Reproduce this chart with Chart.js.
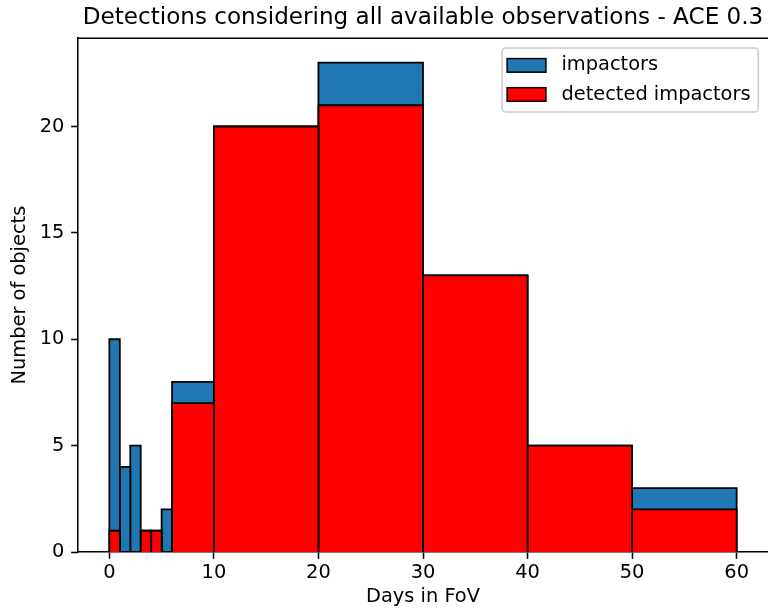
<!DOCTYPE html>
<html>
<head>
<meta charset="utf-8">
<script src="https://cdn.jsdelivr.net/npm/chart.js@4/dist/chart.umd.min.js"></script>
<style>
  html, body { margin: 0; padding: 0; background: #fff; }
  #wrap { width: 768px; height: 613px; }
</style>
</head>
<body>
<div id="wrap"><canvas id="histChart" width="768" height="613"></canvas></div>
<script>
// bin edges (days in FoV) and counts per bin
const binEdges = [0, 1, 2, 3, 4, 5, 6, 10, 20, 30, 40, 50, 60];
const impactors = [10, 4, 5, 1, 1, 2, 8, 20, 23, 13, 5, 3];
const detected = [1, 0, 0, 1, 1, 0, 7, 20, 21, 13, 5, 2];
const xTicks = [0, 10, 20, 30, 40, 50, 60];
const yTicks = [0, 5, 10, 15, 20];
const seriesNames = ['impactors', 'detected impactors'];
const seriesColors = ['#1f77b4', '#ff0000'];

const FONT = 'DejaVu Sans';
const EM = 19.4;

// one closed step outline per bin, filled down to zero
function binDatasets(counts, color, label, order) {
    return counts.map((h, i) => ({
        label: label,
        data: [
            { x: binEdges[i], y: 0 },
            { x: binEdges[i], y: h },
            { x: binEdges[i + 1], y: h },
            { x: binEdges[i + 1], y: 0 }
        ],
        backgroundColor: color,
        borderColor: '#000',
        borderWidth: 1.8,
        borderJoinStyle: 'miter',
        fill: 'origin',
        pointRadius: 0,
        tension: 0,
        order: order
    }));
}

const datasets = [
    ...binDatasets(impactors, seriesColors[0], seriesNames[0], 1),
    ...binDatasets(detected, seriesColors[1], seriesNames[1], 0)
];

// top spine + boxed legend in the upper right corner
const framePlugin = {
    id: 'frame',
    afterDatasetsDraw(chart) {
        const { ctx, chartArea } = chart;
        ctx.save();
        ctx.strokeStyle = '#000';
        ctx.lineWidth = 1.56;
        ctx.beginPath();
        ctx.moveTo(chartArea.left, chartArea.top);
        ctx.lineTo(chartArea.right, chartArea.top);
        ctx.stroke();
        ctx.restore();
    },
    afterDraw(chart) {
        const { ctx, chartArea } = chart;
        ctx.save();
        ctx.font = EM + 'px "' + FONT + '"';
        const textW = Math.max(...seriesNames.map(n => ctx.measureText(n).width));
        const padL = 5, padR = 0.4 * EM, padV = 0.4 * EM;
        const handleW = 2 * EM, handleH = 0.7 * EM, gap = 0.8 * EM;
        const rowH = EM, spacing = 0.5 * EM;
        const boxW = padL + handleW + gap + textW + padR;
        const boxH = 2 * padV + seriesNames.length * rowH + (seriesNames.length - 1) * spacing;
        const right = chartArea.right - 0.5 * EM;
        const left = right - boxW;
        const top = chartArea.top + 0.5 * EM;

        ctx.beginPath();
        ctx.roundRect(left, top, boxW, boxH, 4);
        ctx.fillStyle = 'rgba(255,255,255,0.8)';
        ctx.fill();
        ctx.strokeStyle = '#cccccc';
        ctx.lineWidth = 1.5;
        ctx.stroke();

        ctx.textBaseline = 'middle';
        ctx.textAlign = 'left';
        seriesNames.forEach((name, i) => {
            const cy = top + padV + rowH / 2 + i * (rowH + spacing);
            ctx.fillStyle = seriesColors[i];
            ctx.fillRect(left + padL, cy - handleH / 2, handleW, handleH);
            ctx.strokeStyle = '#000';
            ctx.lineWidth = 1.5;
            ctx.strokeRect(left + padL, cy - handleH / 2, handleW, handleH);
            ctx.fillStyle = '#000';
            ctx.fillText(name, left + padL + handleW + gap, cy);
        });
        ctx.restore();
    }
};

const axisCommon = {
    type: 'linear',
    grid: {
        drawOnChartArea: false,
        drawTicks: true,
        tickLength: 6.8,
        tickWidth: 1.56,
        tickColor: '#000'
    },
    border: { display: true, color: '#000', width: 1.56 },
    ticks: { color: '#000', font: { family: FONT, size: EM } },
    title: { display: true, color: '#000', font: { family: FONT, size: EM, lineHeight: 1.2 } }
};

new Chart(document.getElementById('histChart'), {
    type: 'line',
    data: { datasets: datasets },
    plugins: [framePlugin],
    options: {
        responsive: false,
        animation: false,
        devicePixelRatio: 1,
        layout: { padding: 0 },
        plugins: {
            legend: { display: false },
            tooltip: { enabled: false },
            title: {
                display: true,
                text: 'Detections considering all available observations - ACE 0.3',
                color: '#000',
                fullSize: false,
                font: { family: FONT, size: 23.1, weight: 'normal', lineHeight: 1.2 },
                padding: { top: 4.5, bottom: 6 }
            }
        },
        scales: {
            x: {
                ...axisCommon,
                min: -3,
                max: 63,
                afterBuildTicks: s => { s.ticks = xTicks.map(v => ({ value: v })); },
                afterFit: s => { s.height = 61; },
                ticks: { ...axisCommon.ticks, padding: 3, maxRotation: 0 },
                title: { ...axisCommon.title, text: 'Days in FoV', padding: { top: 0, bottom: 4.4 } }
            },
            y: {
                ...axisCommon,
                min: 0,
                max: 24.15,
                afterBuildTicks: s => { s.ticks = yTicks.map(v => ({ value: v })); },
                afterFit: s => { s.width = 78; },
                ticks: { ...axisCommon.ticks, padding: 6.8 },
                title: { ...axisCommon.title, text: 'Number of objects', padding: { top: 8.5, bottom: 0 } }
            }
        }
    }
});
</script>
</body>
</html>
